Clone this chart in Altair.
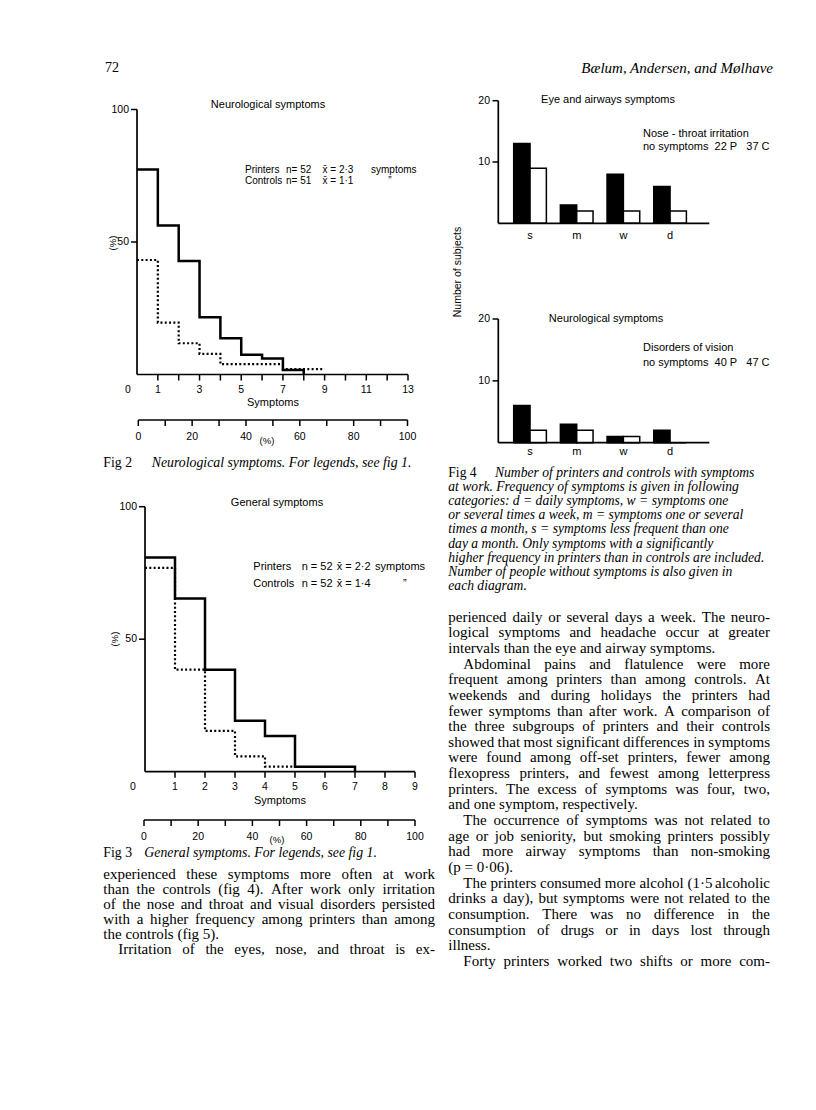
import altair as alt
import pandas as pd

OFF = 8  # page margin: page pixel -> canvas pixel
SANS = "Liberation Sans"
SERIF = "Liberation Serif"


def P(v):
    return v - OFF


# ---------------------------------------------------------------- data
groups = ["Printers", "Controls"]

# Fig 2 - neurological symptoms (% of subjects, one step per symptom count)
neuro_printers = [77.4, 56.2, 42.8, 21.6, 13.7, 7.5, 6.0, 1.7, 0.0]
neuro_controls = [43.2, 19.6, 11.8, 7.8, 3.9, 3.9, 3.9, 2.0, 2.0, 2.0]
neuro_x_ticks = [1, 2, 3, 4, 5, 6, 7, 8, 9, 10, 11, 12, 13]
neuro_x_labels = [1, 3, 5, 7, 9, 11, 13]
neuro_n = ["52", "51"]
neuro_mean = ["2·3", "1·1"]

# Fig 3 - general symptoms
general_printers = [80.8, 65.4, 38.5, 19.2, 13.5, 1.9, 1.9, 0.0]
general_controls = [76.9, 38.5, 15.4, 5.8, 1.9, 1.9]
general_x_ticks = [1, 2, 3, 4, 5, 6, 7, 8, 9]
general_x_labels = [1, 2, 3, 4, 5, 6, 7, 8, 9]
general_n = ["52", "52"]
general_mean = ["2·2", "1·4"]

y_pct_labels = [50, 100]
pct_ticks = [0, 10, 20, 30, 40, 50, 60, 70, 80, 90, 100]
pct_labels = [0, 20, 40, 60, 80, 100]

# Fig 4 - number of subjects by frequency category
freq_cats = ["s", "m", "w", "d"]
eye_printers = [13, 3, 8, 6]
eye_controls = [9, 2, 2, 2]
vision_printers = [6, 3, 1, 2]
vision_controls = [2, 2, 1, 0]
bar_y_labels = [10, 20]

NB = "\u00a0"

left_paragraphs = [
    [
        "experienced these symptoms more often at work",
        "than the controls (fig 4). After work only irritation",
        "of the nose and throat and visual disorders persisted",
        "with a higher frequency among printers than among",
        "the controls (fig 5).",
    ],
    ["Irritation of the eyes, nose, and throat is ex-"],
]

right_caption = [
    "at work. Frequency of symptoms is given in following",
    "categories: d = daily symptoms, w = symptoms one",
    "or several times a week, m = symptoms one or several",
    "times a month, s = symptoms less frequent than one",
    "day a month. Only symptoms with a significantly",
    "higher frequency in printers than in controls are included.",
    "Number of people without symptoms is also given in",
    "each diagram.",
]

right_paragraphs = [
    [
        "perienced daily or several days a week. The neuro-",
        "logical symptoms and headache occur at greater",
        "intervals than the eye and airway symptoms.",
    ],
    [
        "Abdominal pains and flatulence were more",
        "frequent among printers than among controls. At",
        "weekends and during holidays the printers had",
        "fewer symptoms than after work. A comparison of",
        "the three subgroups of printers and their controls",
        "showed that most significant differences in symptoms",
        "were found among off-set printers, fewer among",
        "flexopress printers, and fewest among letterpress",
        "printers. The excess of symptoms was four, two,",
        "and one symptom, respectively.",
    ],
    [
        "The occurrence of symptoms was not related to",
        "age or job seniority, but smoking printers possibly",
        "had more airway symptoms than non-smoking",
        "(p = 0·06).",
    ],
    [
        "The printers consumed more alcohol (1·5 alcoholic",
        "drinks a day), but symptoms were not related to the",
        "consumption. There was no difference in the",
        "consumption of drugs or in days lost through",
        "illness.",
    ],
    ["Forty printers worked two shifts or more com-"],
]

# Times Roman advance widths (1/1000 em), used only to justify the body text
TIMES = {" ": 250, ".": 250, ",": 250, "-": 333, "(": 333, ")": 333, "=": 564, "·": 250,
         ":": 278, ";": 278, "'": 333}
TIMES.update(dict(zip("abcdefghijklmnopqrstuvwxyz",
                      [444, 500, 444, 500, 444, 333, 500, 500, 278, 278, 500, 278, 778,
                       500, 500, 500, 500, 333, 389, 278, 500, 500, 722, 500, 500, 444])))
TIMES.update(dict(zip("ABCDEFGHIJKLMNOPQRSTUVWXYZ",
                      [722, 667, 667, 722, 611, 556, 722, 722, 333, 389, 722, 611, 889,
                       722, 722, 556, 722, 667, 556, 611, 722, 722, 944, 722, 722, 611])))
TIMES.update({d: 500 for d in "0123456789"})


def tw(s, size):
    return sum(TIMES.get(ch, 500) for ch in s) * size / 1000.0


layers = []


def txt(s, x, y, size=11, font=SANS, align="left", style="normal", angle=0):
    return alt.Chart(pd.DataFrame({"t": [s]})).mark_text(
        align=align, baseline="middle", font=font, fontSize=size,
        fontStyle=style, color="black", angle=angle
    ).encode(x=alt.value(P(x)), y=alt.value(P(y)), text="t:N")


def text_lines(lines, x, y0, dy, size, font=SERIF, style="normal"):
    n = len(lines)
    df = pd.DataFrame({"t": lines, "i": list(range(n))})
    ys = alt.Scale(domain=[0, n - 1], range=[P(y0), P(y0 + dy * (n - 1))], nice=False, zero=False)
    return alt.Chart(df).mark_text(
        align="left", baseline="middle", font=font, fontSize=size, fontStyle=style, color="black"
    ).encode(x=alt.value(P(x)), y=alt.Y("i:Q", scale=ys, axis=None), text="t:N")


def justified(paragraphs, first_indented, continues, x0, width, y0, dy, size, indent=15):
    rows_l, rows_r = [], []
    li = 0
    for pi, para in enumerate(paragraphs):
        for k, line in enumerate(para):
            ind = indent if (k == 0 and (pi > 0 or first_indented)) else 0
            last = k == len(para) - 1
            just = (not last) or (pi == len(paragraphs) - 1 and continues)
            words = line.split(" ")
            if just and len(words) > 1:
                ws = [tw(w, size) for w in words]
                gap = (width - ind - sum(ws)) / (len(words) - 1)
                pos = ind
                for j, w in enumerate(words):
                    if j == len(words) - 1:
                        rows_r.append({"t": w, "i": li, "f": 1.0})
                    else:
                        rows_l.append({"t": w, "i": li, "f": pos / width})
                    pos += ws[j] + gap
            else:
                rows_l.append({"t": line, "i": li, "f": ind / width})
            li += 1
    xs = alt.Scale(domain=[0, 1], range=[P(x0), P(x0 + width)], nice=False, zero=False)
    ys = alt.Scale(domain=[0, li - 1], range=[P(y0), P(y0 + dy * (li - 1))], nice=False, zero=False)
    out = []
    for rows, al in ((rows_l, "left"), (rows_r, "right")):
        out.append(alt.Chart(pd.DataFrame(rows)).mark_text(
            align=al, baseline="middle", font=SERIF, fontSize=size, color="black"
        ).encode(x=alt.X("f:Q", scale=xs, axis=None), y=alt.Y("i:Q", scale=ys, axis=None), text="t:N"))
    return out


def step_panel(c):
    xs = alt.Scale(domain=[0, c["xmax"]], range=[P(c["x0"]), P(c["x1"])], nice=False, zero=False)
    ys = alt.Scale(domain=[0, 100], range=[P(c["y0"]), P(c["y100"])], nice=False, zero=False)
    ps = alt.Scale(domain=[0, 100], range=[P(c["p0"]), P(c["p1"])], nice=False, zero=False)
    X = lambda f: alt.X(f, scale=xs, axis=None)
    Y = lambda f: alt.Y(f, scale=ys, axis=None)
    out = []
    dc = pd.DataFrame({"x": list(range(len(c["controls"]))), "y": c["controls"]})
    out.append(alt.Chart(dc).mark_line(
        interpolate="step-after", color="black", strokeWidth=2.2, strokeDash=[2, 2.3], strokeCap="butt"
    ).encode(x=X("x:Q"), y=Y("y:Q")))
    dp = pd.DataFrame({"x": list(range(len(c["printers"]))), "y": c["printers"]})
    out.append(alt.Chart(dp).mark_line(
        interpolate="step-after", color="black", strokeWidth=2.5
    ).encode(x=X("x:Q"), y=Y("y:Q")))
    ax = pd.DataFrame({"x": [0], "x2": [c["xmax"]], "y": [0], "y2": [100]})
    out.append(alt.Chart(ax).mark_rule(color="black", strokeWidth=1.7).encode(
        x=X("x:Q"), y=Y("y:Q"), y2="y2:Q"))
    out.append(alt.Chart(ax).mark_rule(color="black", strokeWidth=1.7).encode(
        x=X("x:Q"), x2="x2:Q", y=Y("y:Q")))
    tk = pd.DataFrame({"x": c["ticks"], "y": [0] * len(c["ticks"])})
    out.append(alt.Chart(tk).mark_tick(
        orient="vertical", size=6, thickness=1.5, yOffset=3, color="black", opacity=1
    ).encode(x=X("x:Q"), y=Y("y:Q")))
    yt = pd.DataFrame({"x": [0, 0], "y": y_pct_labels, "lab": [str(v) for v in y_pct_labels]})
    out.append(alt.Chart(yt).mark_tick(
        orient="horizontal", size=6, thickness=1.5, xOffset=-3, color="black", opacity=1
    ).encode(x=X("x:Q"), y=Y("y:Q")))
    out.append(alt.Chart(yt).mark_text(
        align="right", baseline="middle", dx=-8, font=SANS, fontSize=10.5, color="black"
    ).encode(x=X("x:Q"), y=Y("y:Q"), text="lab:N"))
    xl = pd.DataFrame({"x": c["labels"], "lab": [str(v) for v in c["labels"]]})
    out.append(alt.Chart(xl).mark_text(
        baseline="middle", font=SANS, fontSize=10.5, color="black"
    ).encode(x=X("x:Q"), y=alt.value(P(c["xlab_y"])), text="lab:N"))
    x0 = pd.DataFrame({"x": [0], "lab": ["0"]})
    out.append(alt.Chart(x0).mark_text(
        baseline="middle", dx=c["zero_dx"], font=SANS, fontSize=10.5, color="black"
    ).encode(x=X("x:Q"), y=alt.value(P(c["xlab_y"])), text="lab:N"))
    out.append(txt("Symptoms", c["sym_xy"][0], c["sym_xy"][1], size=11, align="center"))
    # percentage scale below
    pa = pd.DataFrame({"x": [0], "x2": [100]})
    out.append(alt.Chart(pa).mark_rule(color="black", strokeWidth=1.7).encode(
        x=alt.X("x:Q", scale=ps, axis=None), x2="x2:Q", y=alt.value(P(c["py"]))))
    pt = pd.DataFrame({"x": pct_ticks})
    out.append(alt.Chart(pt).mark_tick(
        orient="vertical", size=6, thickness=1.5, color="black", opacity=1
    ).encode(x=alt.X("x:Q", scale=ps, axis=None), y=alt.value(P(c["py"]) + 3)))
    pl = pd.DataFrame({"x": pct_labels, "lab": [str(v) for v in pct_labels]})
    out.append(alt.Chart(pl).mark_text(
        baseline="middle", font=SANS, fontSize=10.5, color="black"
    ).encode(x=alt.X("x:Q", scale=ps, axis=None), y=alt.value(P(c["py"] + 17)), text="lab:N"))
    out.append(txt("(%)", c["pctlab_xy"][0], c["pctlab_xy"][1], size=9.5, align="center"))
    out.append(txt("(%)", c["ylab_xy"][0], c["ylab_xy"][1], size=9.5, align="center", angle=270))
    out.append(txt(c["title"], c["title_xy"][0], c["title_xy"][1], size=11, align="center"))
    # legend block
    leg = pd.DataFrame({
        "group": groups,
        "n": [c["n_fmt"].format(v) for v in c["n"]],
        "m": ["x\u0304 = " + v for v in c["mean"]],
        "unit": ["symptoms", "\u201d"],
    })
    ly = alt.Scale(type="point", domain=groups, range=[P(c["leg_y"][0]), P(c["leg_y"][1])], padding=0)
    for col, xpos in zip(["group", "n", "m"], c["leg_x"]):
        out.append(alt.Chart(leg).mark_text(
            align="left", baseline="middle", font=SANS, fontSize=c["leg_fs"], color="black"
        ).encode(x=alt.value(P(xpos)), y=alt.Y("group:N", scale=ly, axis=None), text=col + ":N"))
    for g, xpos in zip(groups, c["unit_x"]):
        out.append(alt.Chart(leg).transform_filter(alt.datum.group == g).mark_text(
            align="left", baseline="middle", font=SANS, fontSize=c["leg_fs"], color="black"
        ).encode(x=alt.value(P(xpos)), y=alt.Y("group:N", scale=ly, axis=None), text="unit:N"))
    return out


fig2 = dict(
    printers=neuro_printers, controls=neuro_controls, xmax=13, ticks=neuro_x_ticks, labels=neuro_x_labels,
    x0=137, x1=408, y0=374.5, y100=109.5, p0=138.3, p1=407.5, py=420, xlab_y=389.5, zero_dx=-9,
    sym_xy=(273, 403), pctlab_xy=(267, 441), ylab_xy=(113, 243),
    title="Neurological symptoms", title_xy=(268, 105),
    n=neuro_n, mean=neuro_mean, n_fmt="n= {}", leg_y=(170, 181), leg_fs=10,
    leg_x=(245, 286, 322.5), unit_x=(371, 388.3),
)
fig3 = dict(
    printers=general_printers, controls=general_controls, xmax=9, ticks=general_x_ticks, labels=general_x_labels,
    x0=145, x1=415, y0=771.7, y100=506.7, p0=144, p1=415, py=820, xlab_y=787, zero_dx=-12,
    sym_xy=(280, 801), pctlab_xy=(277, 840), ylab_xy=(115, 639),
    title="General symptoms", title_xy=(277, 503),
    n=general_n, mean=general_mean, n_fmt="n = {}", leg_y=(567.3, 584), leg_fs=11,
    leg_x=(253.3, 301.7, 336.7), unit_x=(375, 403),
)
layers += step_panel(fig2)
layers += step_panel(fig3)


def bar_panel(c):
    df = pd.DataFrame({
        "cat": freq_cats * 2,
        "group": [groups[0]] * 4 + [groups[1]] * 4,
        "v": c["printers"] + c["controls"],
    })
    xs = alt.Scale(domain=freq_cats, range=[P(506.7), P(693.4)], paddingInner=0.3, paddingOuter=0.15)
    xo = alt.Scale(domain=groups, paddingInner=0, paddingOuter=0)
    ys = alt.Scale(domain=[0, 20], range=[P(c["y0"]), P(c["y20"])], nice=False)
    out = []
    out.append(alt.Chart(df).mark_bar(stroke="black", strokeWidth=1.5).encode(
        x=alt.X("cat:N", scale=xs, axis=None),
        xOffset=alt.XOffset("group:N", scale=xo),
        y=alt.Y("v:Q", scale=ys, axis=None, stack=None),
        fill=alt.Fill("group:N", scale=alt.Scale(domain=groups, range=["black", "white"]), legend=None),
    ))
    ax = pd.DataFrame({"y": [0], "y2": [20]})
    out.append(alt.Chart(ax).mark_rule(color="black", strokeWidth=1.7).encode(
        x=alt.value(P(498.3)), y=alt.Y("y:Q", scale=ys, axis=None), y2="y2:Q"))
    out.append(alt.Chart(ax).mark_rule(color="black", strokeWidth=1.7).encode(
        x=alt.value(P(498.3)), x2=alt.value(P(709.3)), y=alt.Y("y:Q", scale=ys, axis=None)))
    yt = pd.DataFrame({"y": bar_y_labels, "lab": [str(v) for v in bar_y_labels]})
    out.append(alt.Chart(yt).mark_rule(color="black", strokeWidth=1.5).encode(
        x=alt.value(P(492.5)), x2=alt.value(P(498.3)), y=alt.Y("y:Q", scale=ys, axis=None)))
    out.append(alt.Chart(yt).mark_text(
        align="right", baseline="middle", font=SANS, fontSize=10.5, color="black"
    ).encode(x=alt.value(P(490)), y=alt.Y("y:Q", scale=ys, axis=None), text="lab:N"))
    cl = pd.DataFrame({"cat": freq_cats})
    out.append(alt.Chart(cl).mark_text(
        baseline="middle", font=SANS, fontSize=11, color="black"
    ).encode(x=alt.X("cat:N", scale=xs, axis=None), y=alt.value(P(c["cat_y"])), text="cat:N"))
    out.append(txt(c["title"], c["title_xy"][0], c["title_xy"][1], size=11, align="center"))
    out.append(txt(c["note1"], 643, c["note_y"][0], size=11))
    out.append(txt(c["note2"], 643, c["note_y"][1], size=11))
    return out


layers += bar_panel(dict(
    printers=eye_printers, controls=eye_controls, y0=223.3, y20=100.7, cat_y=236,
    title="Eye and airways symptoms", title_xy=(608, 100),
    note1="Nose - throat irritation", note2="no symptoms" + NB * 2 + "22 P" + NB * 3 + "37 C",
    note_y=(134, 147),
))
layers += bar_panel(dict(
    printers=vision_printers, controls=vision_controls, y0=442.7, y20=319, cat_y=452,
    title="Neurological symptoms", title_xy=(606, 319),
    note1="Disorders of vision", note2="no symptoms" + NB * 2 + "40 P" + NB * 3 + "47 C",
    note_y=(348.3, 362.7),
))
layers.append(txt("Number of subjects", 458, 272, size=10.5, align="center", angle=270))

# page furniture and text
layers.append(txt("72", 105, 68, size=14, font=SERIF))
layers.append(txt("Bælum, Andersen, and Mølhave", 773, 68, size=15, font=SERIF, align="right", style="italic"))
layers.append(txt("Fig 2", 103.3, 463.3, size=13.8, font=SERIF))
layers.append(txt("Neurological symptoms. For legends, see fig 1.", 151.7, 463.3, size=13.8, font=SERIF, style="italic"))
layers.append(txt("Fig 3", 103.3, 853.3, size=13.8, font=SERIF))
layers.append(txt("General symptoms. For legends, see fig 1.", 144.3, 853.3, size=13.8, font=SERIF, style="italic"))
layers += justified(left_paragraphs, False, True, 103.3, 331.7, 874.3, 15.0, 15)
layers.append(txt("Fig 4", 448.3, 472.7, size=13.6, font=SERIF))
layers.append(txt("Number of printers and controls with symptoms", 495, 472.7, size=13.6, font=SERIF, style="italic"))
layers.append(text_lines(right_caption, 448.3, 486.9, 14.16, 13.6, style="italic"))
layers += justified(right_paragraphs, False, True, 448.3, 321.7, 616.7, 15.64, 15)

chart = alt.layer(*layers).resolve_scale(
    x="independent", y="independent", xOffset="independent", fill="independent"
).properties(
    width=800, height=1094, autosize=alt.AutoSizeParams(type="none"), padding=0
).configure_view(stroke=None)

chart.save("out.html", embed_options={"renderer": "svg", "actions": False})
